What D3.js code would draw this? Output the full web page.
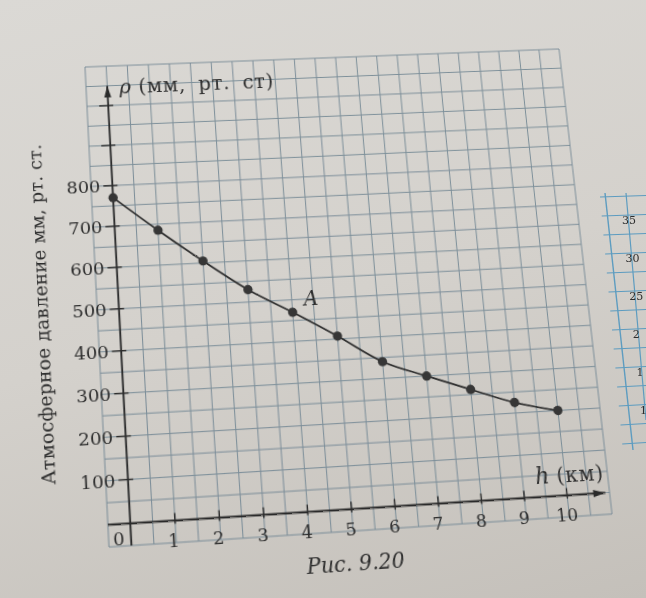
<!DOCTYPE html>
<html><head><meta charset="utf-8">
<script src="https://cdn.jsdelivr.net/npm/d3@7"></script>
<style>
html,body{margin:0;padding:0;width:646px;height:598px;overflow:hidden;}
body{background:linear-gradient(165deg,#dbd9d5 0%,#d4d1cc 50%,#c4c0ba 100%);}
#warp{position:absolute;left:0;top:0;width:646px;height:598px;transform-origin:0 0;}
#side{position:absolute;left:0;top:0;}
svg text{font-family:"DejaVu Serif",serif;fill:#2e2e2e;}
</style></head><body>
<div id="warp"></div>
<svg id="side" width="646" height="598"></svg>
<script>
// ---- data ----
const heights = [0, 1, 2, 3, 4, 5, 6, 7, 8, 9, 10];
const pressures = [770, 685, 605, 530, 470, 407, 340, 300, 262, 225, 200];
const xTickValues = [1, 2, 3, 4, 5, 6, 7, 8, 9, 10];
const xTickLabels = ["1", "2", "3", "4", "5", "6", "7", "8", "9", "10"];
const yTickValues = [100, 200, 300, 400, 500, 600, 700, 800, 900, 1000];
const yTickLabels = ["100", "200", "300", "400", "500", "600", "700", "800", "", ""];
const yTitle = "Атмосферное давление мм, рт. ст.";
const pLabel = "(мм, рт. ст)";
const hLabel = "(км)";
const caption = "Рис. 9.20";
const sideLabels = ["35", "30", "25", "2", "1", "1"];

// ---- flat frame ----
const W = 646, H = 598;
const x = d3.scaleLinear().domain([-0.5, 11]).range([97, 586]);
const y = d3.scaleLinear().domain([-50, 1100]).range([529, 58]);

const svg = d3.select("#warp").append("svg").attr("width", W).attr("height", H);

// grid
const gx = d3.range(-0.5, 11.001, 0.5), gy = d3.range(-50, 1100.001, 50);
const grid = svg.append("g").attr("stroke", "#7c8e99").attr("stroke-width", 1).attr("fill", "none");
grid.selectAll("line.v").data(gx).join("line").attr("class", "v")
  .attr("x1", d => x(d)).attr("x2", d => x(d)).attr("y1", y(-50)).attr("y2", y(1100));
grid.selectAll("line.h").data(gy).join("line").attr("class", "h")
  .attr("y1", d => y(d)).attr("y2", d => y(d)).attr("x1", x(-0.5)).attr("x2", x(11));

// axes
const ax = svg.append("g").attr("stroke", "#2b2b2b").attr("stroke-width", 1.8);
ax.append("line").attr("x1", x(-0.5)).attr("x2", x(10.9)).attr("y1", y(0)).attr("y2", y(0));
ax.append("line").attr("x1", x(0)).attr("x2", x(0)).attr("y1", y(-50)).attr("y2", y(1050));
svg.append("path").attr("fill", "#2b2b2b")
  .attr("d", `M${x(10.9)},${y(0)} l-12,-3.5 l0,7 Z`);
svg.append("path").attr("fill", "#2b2b2b")
  .attr("d", `M${x(0)},${y(1050)} l-3.5,12 l7,0 Z`);

// ticks
ax.selectAll("line.xt").data(xTickValues).join("line").attr("class", "xt")
  .attr("x1", d => x(d)).attr("x2", d => x(d)).attr("y1", y(0) - 7).attr("y2", y(0) + 3)
  .attr("stroke-width", 1.4);
ax.selectAll("line.yt").data(yTickValues).join("line").attr("class", "yt")
  .attr("y1", d => y(d)).attr("y2", d => y(d)).attr("x1", x(0) - 9).attr("x2", x(0) + 5)
  .attr("stroke-width", 1.4);

// tick labels
svg.selectAll("text.xl").data(xTickValues).join("text").attr("class", "xl")
  .attr("x", d => x(d) - 2).attr("y", y(-50) + 4).attr("text-anchor", "middle")
  .attr("font-size", 17).text((d, i) => xTickLabels[i]);
svg.append("text").attr("x", x(-0.27)).attr("y", y(-50) - 1).attr("text-anchor", "middle")
  .attr("font-size", 17).text("0");
svg.selectAll("text.yl").data(yTickValues).join("text").attr("class", "yl")
  .attr("x", x(0) - 12).attr("y", d => y(d)).attr("dy", "0.36em").attr("text-anchor", "end")
  .attr("font-size", 17.5).text((d, i) => yTickLabels[i]);

// axis titles
const pt = svg.append("text").attr("x", x(0.28)).attr("y", y(1030)).attr("font-size", 20)
  .attr("word-spacing", 6).attr("letter-spacing", 0.6);
pt.append("tspan").attr("font-style", "italic").text("ρ");
pt.append("tspan").attr("dx", 7).text(pLabel);
const ht = svg.append("text").attr("x", x(9.3)).attr("y", y(30)).attr("font-size", 20)
  .attr("letter-spacing", 1);
ht.append("tspan").attr("font-style", "italic").attr("font-size", 22).text("h");
ht.append("tspan").attr("dx", 6).text(hLabel);

svg.append("text").attr("transform", `translate(${x(-1.62)},${y(505)}) rotate(-90)`)
  .attr("text-anchor", "middle").attr("font-size", 18).attr("letter-spacing", 0.2).text(yTitle);

svg.append("text").attr("x", x(5.0)).attr("y", y(-140)).attr("text-anchor", "middle")
  .attr("font-size", 20).attr("font-style", "italic").text(caption);

// curve
const line = d3.line().x((d, i) => x(heights[i])).y(d => y(d)).curve(d3.curveMonotoneX);
svg.append("path").datum(pressures).attr("d", line).attr("fill", "none")
  .attr("stroke", "#2e2e2e").attr("stroke-width", 1.7);
svg.selectAll("circle").data(pressures).join("circle")
  .attr("cx", (d, i) => x(heights[i])).attr("cy", d => y(d)).attr("r", 4.6).attr("fill", "#363636");
svg.append("text").attr("x", x(4.45)).attr("y", y(485)).attr("text-anchor", "middle")
  .attr("font-size", 20).attr("font-style", "italic").text("A");

// ---- perspective warp of the page (photo) ----
function solve(A, b) {
  const n = b.length;
  for (let i = 0; i < n; i++) {
    let p = i;
    for (let r = i + 1; r < n; r++) if (Math.abs(A[r][i]) > Math.abs(A[p][i])) p = r;
    [A[i], A[p]] = [A[p], A[i]]; [b[i], b[p]] = [b[p], b[i]];
    for (let r = i + 1; r < n; r++) {
      const f = A[r][i] / A[i][i];
      for (let c = i; c < n; c++) A[r][c] -= f * A[i][c];
      b[r] -= f * b[i];
    }
  }
  const s = new Array(n).fill(0);
  for (let i = n - 1; i >= 0; i--) {
    let v = b[i];
    for (let c = i + 1; c < n; c++) v -= A[i][c] * s[c];
    s[i] = v / A[i][i];
  }
  return s;
}
const src = [[x(-0.5), y(1100)], [x(11), y(1100)], [x(11), y(-50)], [x(-0.5), y(-50)]];
const dst = [[85, 67], [559, 49], [612, 514], [109, 547]];
const A = [], b = [];
src.forEach(([sx, sy], i) => {
  const [X, Y] = dst[i];
  A.push([sx, sy, 1, 0, 0, 0, -sx * X, -sy * X]); b.push(X);
  A.push([0, 0, 0, sx, sy, 1, -sx * Y, -sy * Y]); b.push(Y);
});
const h = solve(A, b);
document.getElementById("warp").style.transform =
  `matrix3d(${h[0]},${h[3]},0,${h[6]},${h[1]},${h[4]},0,${h[7]},0,0,1,0,${h[2]},${h[5]},0,1)`;

// ---- neighbouring figure at the right edge ----
const side = d3.select("#side");
const sy = d3.scaleLinear().domain([0, 13]).range([197, 444]);
const rows = d3.range(0, 14);
side.append("g").attr("stroke", "#5d9cc0").attr("stroke-width", 1.1).selectAll("line").data(rows).join("line")
  .attr("x1", d => 600 + (sy(d) - 197) * 0.09).attr("x2", 646).attr("y1", d => sy(d)).attr("y2", d => sy(d) - 1.5);
side.append("line").attr("x1", 605).attr("y1", 193).attr("x2", 633).attr("y2", 450)
  .attr("stroke", "#5d9cc0").attr("stroke-width", 1.4);
side.append("line").attr("x1", 626).attr("y1", 193).attr("x2", 646).attr("y2", 420)
  .attr("stroke", "#5d9cc0").attr("stroke-width", 1.2);
side.selectAll("text").data(sideLabels).join("text")
  .attr("x", (d, i) => 622 + i * 3.6).attr("y", (d, i) => 224 + i * 38)
  .attr("font-size", 11).attr("fill", "#3a3a3a").text(d => d);
</script>
</body></html>
